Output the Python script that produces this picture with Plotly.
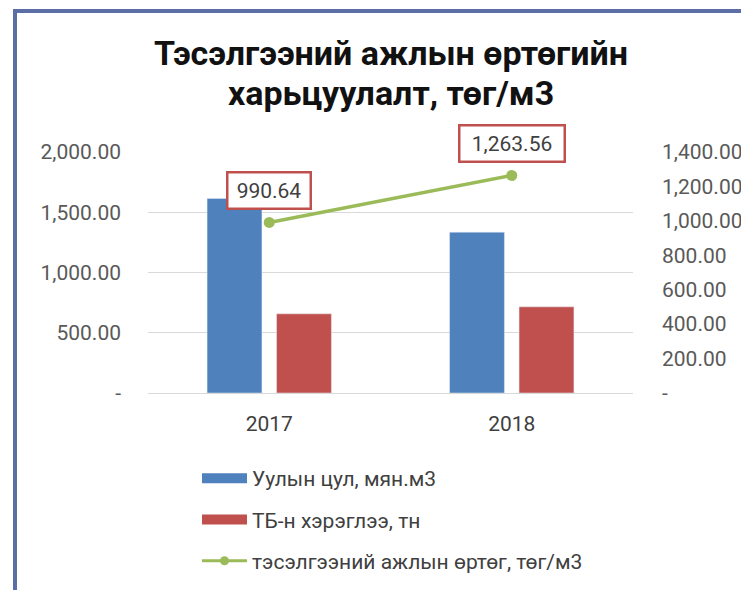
import plotly.graph_objects as go

# ---- data ----
categories = ["2017", "2018"]
volume = [1615, 1335]            # Уулын цул, мян.м3
explosive = [657, 715]           # ТБ-н хэрэглээ, тн
cost = [990.64, 1263.56]         # тэсэлгээний ажлын өртөг, төг/м3
cost_labels = ["990.64", "1,263.56"]

left_ticks = [0, 500, 1000, 1500, 2000]
left_ticktext = ["-", "500.00", "1,000.00", "1,500.00", "2,000.00"]
right_ticks = [0, 200, 400, 600, 800, 1000, 1200, 1400]
right_ticktext = ["-", "200.00", "400.00", "600.00", "800.00", "1,000.00", "1,200.00", "1,400.00"]

names = ["Уулын цул, мян.м3", "ТБ-н хэрэглээ, тн", "тэсэлгээний ажлын өртөг, төг/м3"]
title_lines = ["Тэсэлгээний ажлын өртөгийн", "харьцуулалт, төг/м3"]

BLUE = "#4f81bd"
RED = "#c0504d"
GREEN = "#9bbb59"
FONT = "Roboto"

OFF = 8                      # page body margin
W, H = 749 - OFF, 590 - OFF
# plot area in page px
PL, PR, PT, PB = 148, 633, 152, 393
L, R, T, B = PL - OFF, PR - OFF, PT - OFF, PB - OFF


def px_x(page_px):
    return (page_px - PL) / (PR - PL)


def px_y(page_py):
    return (PB - page_py) / (PB - PT)


fig = go.Figure()
fig.add_trace(go.Bar(x=categories, y=volume, name=names[0], marker_color=BLUE,
                     showlegend=False, yaxis="y"))
fig.add_trace(go.Bar(x=categories, y=explosive, name=names[1], marker_color=RED,
                     showlegend=False, yaxis="y"))
fig.add_trace(go.Scatter(x=categories, y=cost, name=names[2], mode="lines+markers",
                         line=dict(color=GREEN, width=3.5), marker=dict(size=11, color=GREEN),
                         yaxis="y2", showlegend=False))

# legend entries
fig.add_trace(go.Scatter(x=[categories[0]], y=[None], mode="lines", name=names[0],
                         line=dict(color=BLUE, width=10), legendgroup="a", yaxis="y"))
fig.add_trace(go.Scatter(x=[categories[0]], y=[None], mode="lines", name=names[1],
                         line=dict(color=RED, width=10), legendgroup="b", yaxis="y"))
fig.add_trace(go.Scatter(x=[categories[0]], y=[None], mode="lines+markers", name=names[2],
                         line=dict(color=GREEN, width=3), marker=dict(size=9, color=GREEN),
                         legendgroup="c", yaxis="y2"))

annotations = []
box_w = [77, 99]
for i, (val, lab) in enumerate(zip(cost, cost_labels)):
    annotations.append(dict(x=i, y=val, xref="x", yref="y2", text=lab, showarrow=False,
                            yshift=32, width=box_w[i], height=30,
                            font=dict(family=FONT, size=21, color="#404040"),
                            bgcolor="white", bordercolor=RED, borderwidth=2.5, borderpad=2))

for txt, yc in zip(title_lines, [53, 93]):
    annotations.append(dict(x=0.5, y=px_y(yc), xref="paper", yref="paper", text="<b>%s</b>" % txt,
                            showarrow=False, xanchor="center", yanchor="middle",
                            font=dict(family=FONT, size=34, color="#111111")))

shapes = [
    dict(type="line", xref="paper", yref="paper", x0=px_x(13), x1=px_x(760), y0=px_y(11), y1=px_y(11),
         line=dict(color="#5b6fa6", width=4)),
    dict(type="line", xref="paper", yref="paper", x0=px_x(15), x1=px_x(15), y0=px_y(9), y1=px_y(600),
         line=dict(color="#5b6fa6", width=4)),
]

fig.update_layout(
    width=W, height=H,
    margin=dict(l=L, r=W - R, t=T, b=H - B, autoexpand=False),
    paper_bgcolor="white", plot_bgcolor="white",
    barmode="group", bargap=0.427, bargroupgap=0.21,
    font=dict(family=FONT, color="#595959", size=21),
    xaxis=dict(type="category", categoryorder="array", categoryarray=categories,
               range=[-0.5, 1.5], showgrid=False, showline=False, ticks="",
               tickfont=dict(size=21, color="#404040"), ticklabelstandoff=16),
    yaxis=dict(range=[0, 2000], tickvals=left_ticks, ticktext=left_ticktext,
               showgrid=True, gridcolor="#d9d9d9", gridwidth=1, zeroline=True,
               zerolinecolor="#d9d9d9", zerolinewidth=1, showline=False, ticks="",
               ticklabelstandoff=26, tickfont=dict(size=21, color="#595959")),
    yaxis2=dict(range=[0, 1400], tickvals=right_ticks, ticktext=right_ticktext,
                overlaying="y", side="right", showgrid=False, zeroline=False,
                showline=False, ticks="", ticklabelstandoff=28,
                tickfont=dict(size=21, color="#595959")),
    legend=dict(x=px_x(197), y=px_y(458), xanchor="left", yanchor="top",
                traceorder="grouped", tracegroupgap=11, itemwidth=45,
                font=dict(size=21, color="#404040", family=FONT), bgcolor="rgba(0,0,0,0)"),
    annotations=annotations,
    shapes=shapes,
)

fig.write_html("out.html")
